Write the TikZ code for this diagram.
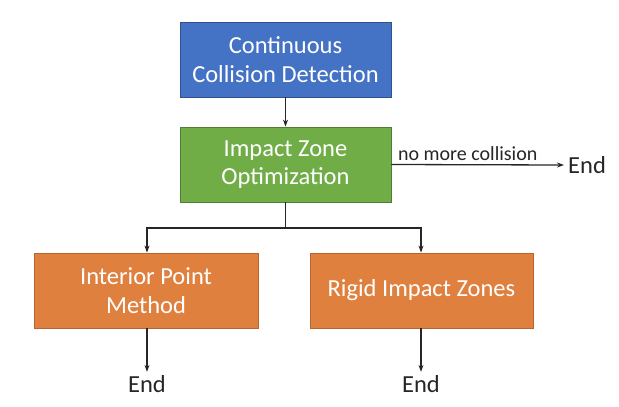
\documentclass[tikz,border=0pt]{standalone}
\usepackage{fontspec}
\setmainfont{Carlito}
\usetikzlibrary{arrows.meta}
\definecolor{cblue}{HTML}{4472C4}
\definecolor{cbluedark}{HTML}{2F528F}
\definecolor{cgreen}{HTML}{70AD47}
\definecolor{cgreendark}{HTML}{507E32}
\definecolor{corange}{HTML}{E0803F}
\definecolor{corangedark}{HTML}{B8642C}
\tikzset{
  box/.style={draw, line width=0.8pt, text=white, align=center, font=\fontsize{24.5}{28.5}\selectfont, inner sep=0pt},
  arr/.style={line width=1.3pt, draw=black!85, -{Stealth[length=7pt,width=5pt]}},
  lin/.style={line width=1.3pt, draw=black!85},
  endlbl/.style={font=\fontsize{24.5}{28}\selectfont, text=black!85},
}
\begin{document}
\begin{tikzpicture}[x=1pt,y=-1pt]
\useasboundingbox (0,0) rectangle (619,407);
\node[box, fill=cblue, draw=cbluedark, minimum width=211pt, minimum height=75pt] (ccd) at (285.5,59.5) {Continuous\\Collision Detection};
\node[box, fill=cgreen, draw=cgreendark, minimum width=211pt, minimum height=75pt] (izo) at (285.5,164.5) {Impact Zone\\Optimization};
\node[box, fill=corange, draw=corangedark, minimum width=224pt, minimum height=75pt] (ipm) at (146,290.5) {Interior Point\\Method};
\node[box, fill=corange, draw=corangedark, minimum width=223pt, minimum height=75pt] (riz) at (421.5,290.5) {Rigid Impact Zones};
\node[endlbl, anchor=west, inner sep=4pt] (end1) at (564,165) {End};
\node[endlbl] (end2) at (147,384) {End};
\node[endlbl] (end3) at (421,384) {End};
\coordinate (split) at (285.5,228);
\draw[arr] (ccd.south) -- (izo.north);
\draw[arr] (izo.east) -- node[pos=0, anchor=south west, xshift=5pt, yshift=2pt, font=\fontsize{20}{24}\selectfont, text=black!85, inner sep=1pt] {no more collision} (end1.west);
\draw[lin] (izo.south) -- (split);
\draw[arr] (split) -| (ipm.north -| end2);
\draw[arr] (split) -| (riz.north -| end3);
\draw[arr] (ipm.south -| end2) -- (end2.north);
\draw[arr] (riz.south -| end3) -- (end3.north);
\end{tikzpicture}
\end{document}
